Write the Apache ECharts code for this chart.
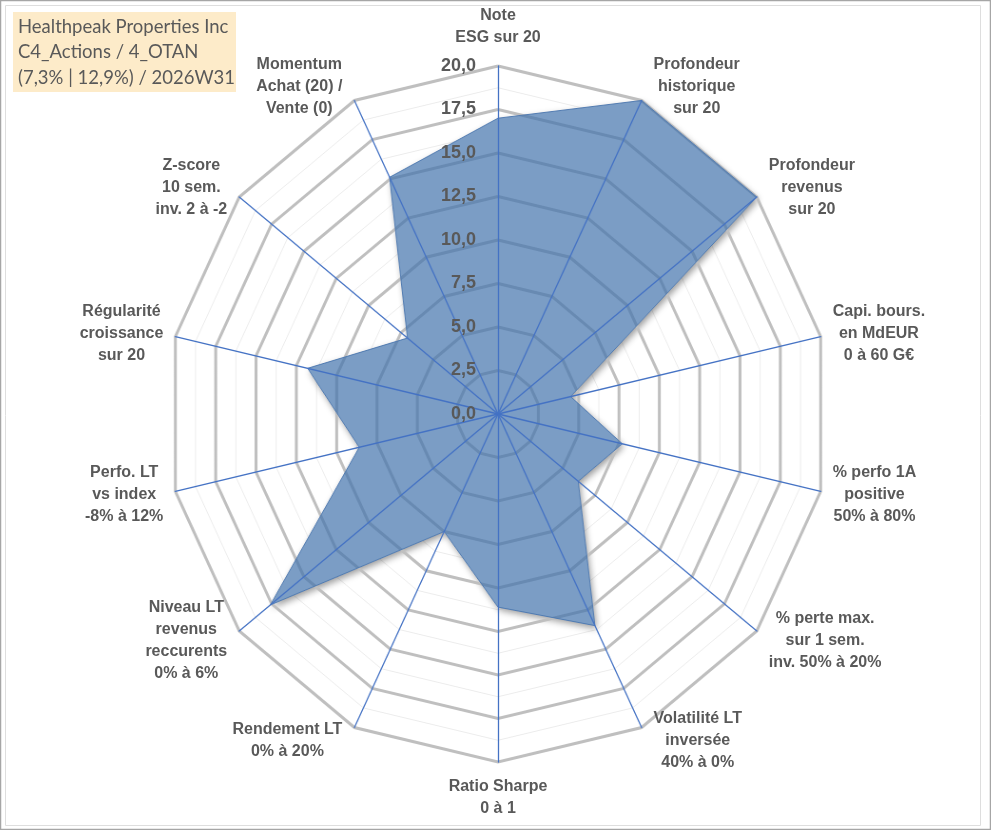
<!DOCTYPE html>
<html>
<head>
<meta charset="utf-8">
<script src="https://cdn.jsdelivr.net/npm/echarts@6/dist/echarts.min.js"></script>
<style>
html, body { margin: 0; padding: 0; background: #fff; }
#wrap { position: relative; width: 991px; height: 830px; overflow: hidden; }
#radar, #text { position: absolute; left: 0; top: 0; width: 991px; height: 830px; }
/* the source picture is a bit narrower than tall: squeeze the web horizontally */
#radar { transform-origin: 498px 414px; transform: scaleX(0.951); }
</style>
</head>
<body>
<div id="wrap"><div id="radar"></div><div id="text"></div></div>
<script>
// box in the upper left
var titleLines = ['Healthpeak Properties Inc', 'C4_Actions / 4_OTAN', '(7,3% | 12,9%) / 2026W31'];

// axes, clockwise from the top
var axisNames = [
    'Note\nESG sur 20',
    'Profondeur\nhistorique\nsur 20',
    'Profondeur\nrevenus\nsur 20',
    'Capi. bours.\nen MdEUR\n0 à 60 G€',
    '% perfo 1A\npositive\n50% à 80%',
    '% perte max.\nsur 1 sem.\ninv. 50% à 20%',
    'Volatilité LT\ninversée\n40% à 0%',
    'Ratio Sharpe\n0 à 1',
    'Rendement LT\n0% à 20%',
    'Niveau LT\nrevenus\nreccurents\n0% à 6%',
    'Perfo. LT\nvs index\n-8% à 12%',
    'Régularité\ncroissance\nsur 20',
    'Z-score\n10 sem.\ninv. 2 à -2',
    'Momentum\nAchat (20) /\nVente (0)'
];
var scores = [17.0, 20.0, 20.0, 4.5, 7.7, 6.2, 13.5, 11.1, 7.5, 17.6, 8.6, 11.8, 7.0, 15.1];
var scoreMax = 20;
var scoreStep = 2.5;

var cx = 498, cy = 414, ry = 348, rx = 331;
var n = axisNames.length;

// echarts turns the radar counterclockwise, so feed it the axes in reverse after the first
var order = [0];
for (var k = n - 1; k > 0; k--) order.push(k);
var indicators = order.map(function (i) { return { name: axisNames[i], min: 0, max: scoreMax }; });
var values = order.map(function (i) { return scores[i]; });

function radarBase(extra) {
    var r = {
        indicator: indicators,
        center: [cx, cy],
        radius: ry,
        startAngle: 90,
        shape: 'polygon',
        axisName: { show: false },
        axisLine: { show: false },
        axisTick: { show: false },
        axisLabel: { show: false },
        splitArea: { show: false },
        splitLine: { show: false }
    };
    for (var key in extra) r[key] = extra[key];
    return r;
}

var radarChart = echarts.init(document.getElementById('radar'));
radarChart.setOption({
    animation: false,
    radar: [
        radarBase({ z: 1, splitNumber: scoreMax / scoreStep * 2,
            splitLine: { show: true, lineStyle: { color: '#ececec', width: 1 } } }),
        radarBase({ z: 3, splitNumber: scoreMax / scoreStep,
            splitLine: { show: true, lineStyle: { color: '#bfbfbf', width: 3 } } }),
        radarBase({ z: 6,
            axisLine: { show: true, lineStyle: { color: '#4472c4', width: 1.3 } } })
    ],
    series: [{
        // white copy underneath, only to cast the shadow
        type: 'radar',
        radarIndex: 0,
        z: 2,
        symbol: 'none',
        silent: true,
        lineStyle: { width: 0 },
        areaStyle: {
            color: '#ffffff',
            opacity: 1,
            shadowBlur: 7,
            shadowColor: 'rgba(0,0,0,0.4)',
            shadowOffsetX: 2,
            shadowOffsetY: 3
        },
        data: [{ value: values }]
    }, {
        type: 'radar',
        radarIndex: 1,
        z: 4,
        symbol: 'none',
        lineStyle: { color: '#5a80b4', width: 1 },
        areaStyle: { color: '#4374ad', opacity: 0.7 },
        data: [{ value: values, name: titleLines[0] }]
    }]
});

// texts on top, not squeezed
var labelFont = 'bold 16px "Liberation Sans"';
var ctx = document.createElement('canvas').getContext('2d');
ctx.font = labelFont;
function blockWidth(txt) {
    return Math.max.apply(null, txt.split('\n').map(function (l) { return ctx.measureText(l).width; }));
}

var graphics = [
    { type: 'rect', silent: true, shape: { x: 0.5, y: 0.5, width: 990, height: 829 },
      style: { fill: 'none', stroke: '#a6a6a6', lineWidth: 1.5 } },
    { type: 'rect', silent: true, shape: { x: 5.5, y: 5.5, width: 975, height: 820 },
      style: { fill: 'none', stroke: '#dedede', lineWidth: 1 } },
    { type: 'rect', silent: true, shape: { x: 13, y: 12, width: 223, height: 80 },
      style: { fill: '#fdebc9' } },
    { type: 'text', silent: true, x: 18, y: 14,
      style: { text: titleLines.join('\n'), fill: '#595959', fontFamily: 'Lato', fontSize: 18.5,
               lineHeight: 25.5, align: 'left', verticalAlign: 'top' } }
];

axisNames.forEach(function (name, i) {
    var a = i * 2 * Math.PI / n;
    var s = Math.sin(a), c = Math.cos(a);
    var px = cx + rx * s, py = cy - ry * c;
    var x, y, va;
    if (Math.abs(s) < 0.01) {
        x = px;
        if (c > 0) { y = py - 17; va = 'bottom'; } else { y = py + 14; va = 'top'; }
    } else {
        x = px + (s > 0 ? 1 : -1) * (12 + blockWidth(name) / 2);
        y = py - 15 * c;
        va = 'middle';
    }
    graphics.push({ type: 'text', silent: true, x: x, y: y,
        style: { text: name, fill: '#595959', fontFamily: 'Liberation Sans', fontWeight: 'bold',
                 fontSize: 16, lineHeight: 22, align: 'center', verticalAlign: va } });
});

var textChart = echarts.init(document.getElementById('text'));
textChart.setOption({
    animation: false,
    grid: { left: cx, top: cy - ry, width: 1, height: ry },
    xAxis: { type: 'value', show: false },
    yAxis: {
        type: 'value', min: 0, max: scoreMax, interval: scoreStep,
        axisLine: { show: false }, axisTick: { show: false }, splitLine: { show: false },
        axisLabel: {
            margin: 22, color: '#595959', fontFamily: 'Liberation Sans', fontWeight: 'bold', fontSize: 18,
            formatter: function (v) { return v.toFixed(1).replace('.', ','); }
        }
    },
    graphic: graphics
});
</script>
</body>
</html>
